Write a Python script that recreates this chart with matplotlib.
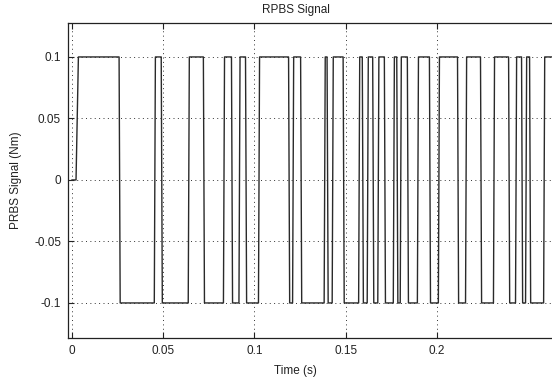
import matplotlib
matplotlib.use("Agg")
import matplotlib.pyplot as plt
import numpy as np

# ---- data ----
switch_times = [0.0022, 0.0258, 0.0451, 0.0489, 0.0637, 0.0720, 0.0830, 0.0874,
                0.0915, 0.0951, 0.1022, 0.1187, 0.1209, 0.1253, 0.1382, 0.1398,
                0.1426, 0.1486, 0.1571, 0.1591, 0.1618, 0.1648, 0.1676, 0.1712,
                0.1761, 0.1780, 0.1799, 0.1838, 0.1893, 0.1959, 0.2008, 0.2113,
                0.2157, 0.2239, 0.2310, 0.2393, 0.2431, 0.2464, 0.2486, 0.2508,
                0.2585]
levels = [0.1 if i % 2 == 0 else -0.1 for i in range(len(switch_times))]
initial_level = 0.0
end_time = 0.27
x_ticks = [0, 0.05, 0.1, 0.15, 0.2]
x_ticklabels = ["0", "0.05", "0.1", "0.15", "0.2"]
y_ticks = [-0.1, -0.05, 0, 0.05, 0.1]
y_ticklabels = ["-0.1", "-0.05", "0", "0.05", "0.1"]

rise = 0.0006
t = [0.0]
v = [initial_level]
prev = initial_level
for i, (ts, lv) in enumerate(zip(switch_times, levels)):
    r = 0.0013 if i == 0 else rise
    t += [ts, ts + r]
    v += [prev, lv]
    prev = lv
t.append(end_time)
v.append(prev)

plt.rcParams['font.family'] = ['Liberation Sans', 'DejaVu Sans']
fig = plt.figure(figsize=(5.52, 3.88), dpi=100)
ax = fig.add_axes([68/552, 50/388, 1 - 68/552 + 0.002, 315/388])
ax.plot(t, v, color='#2a2a2a', lw=1.0)
ax.set_xlim(-0.0022, 0.2637)
ax.set_ylim(-0.1285, 0.1276)
ax.set_xticks(x_ticks)
ax.set_xticklabels(x_ticklabels)
ax.set_yticks(y_ticks)
ax.set_yticklabels(y_ticklabels)
ax.tick_params(direction='in', length=4, width=0.8, labelsize=8.5, top=True,
               right=False, colors='#222222', pad=5)
ax.grid(True, color='#333333', linestyle=(0, (1, 3.5)), linewidth=0.7)
ax.spines['right'].set_visible(False)
for s in ['left', 'top', 'bottom']:
    ax.spines[s].set_linewidth(0.9)
    ax.spines[s].set_color('#222222')
cx = (295 - 68) / (552 - 68)
ax.text(cx, 1.0 + 13/315, "RPBS Signal", transform=ax.transAxes,
        ha='center', va='center', fontsize=8.5, color='#222222')
ax.text(cx, -33/315, "Time (s)", transform=ax.transAxes,
        ha='center', va='center', fontsize=8.5, color='#222222')
fig.text(16/552, 1 - 180/388, "PRBS Signal (Nm)", rotation=90,
         ha='center', va='center', fontsize=8.5, color='#222222')
fig.savefig("out.png", dpi=100)
